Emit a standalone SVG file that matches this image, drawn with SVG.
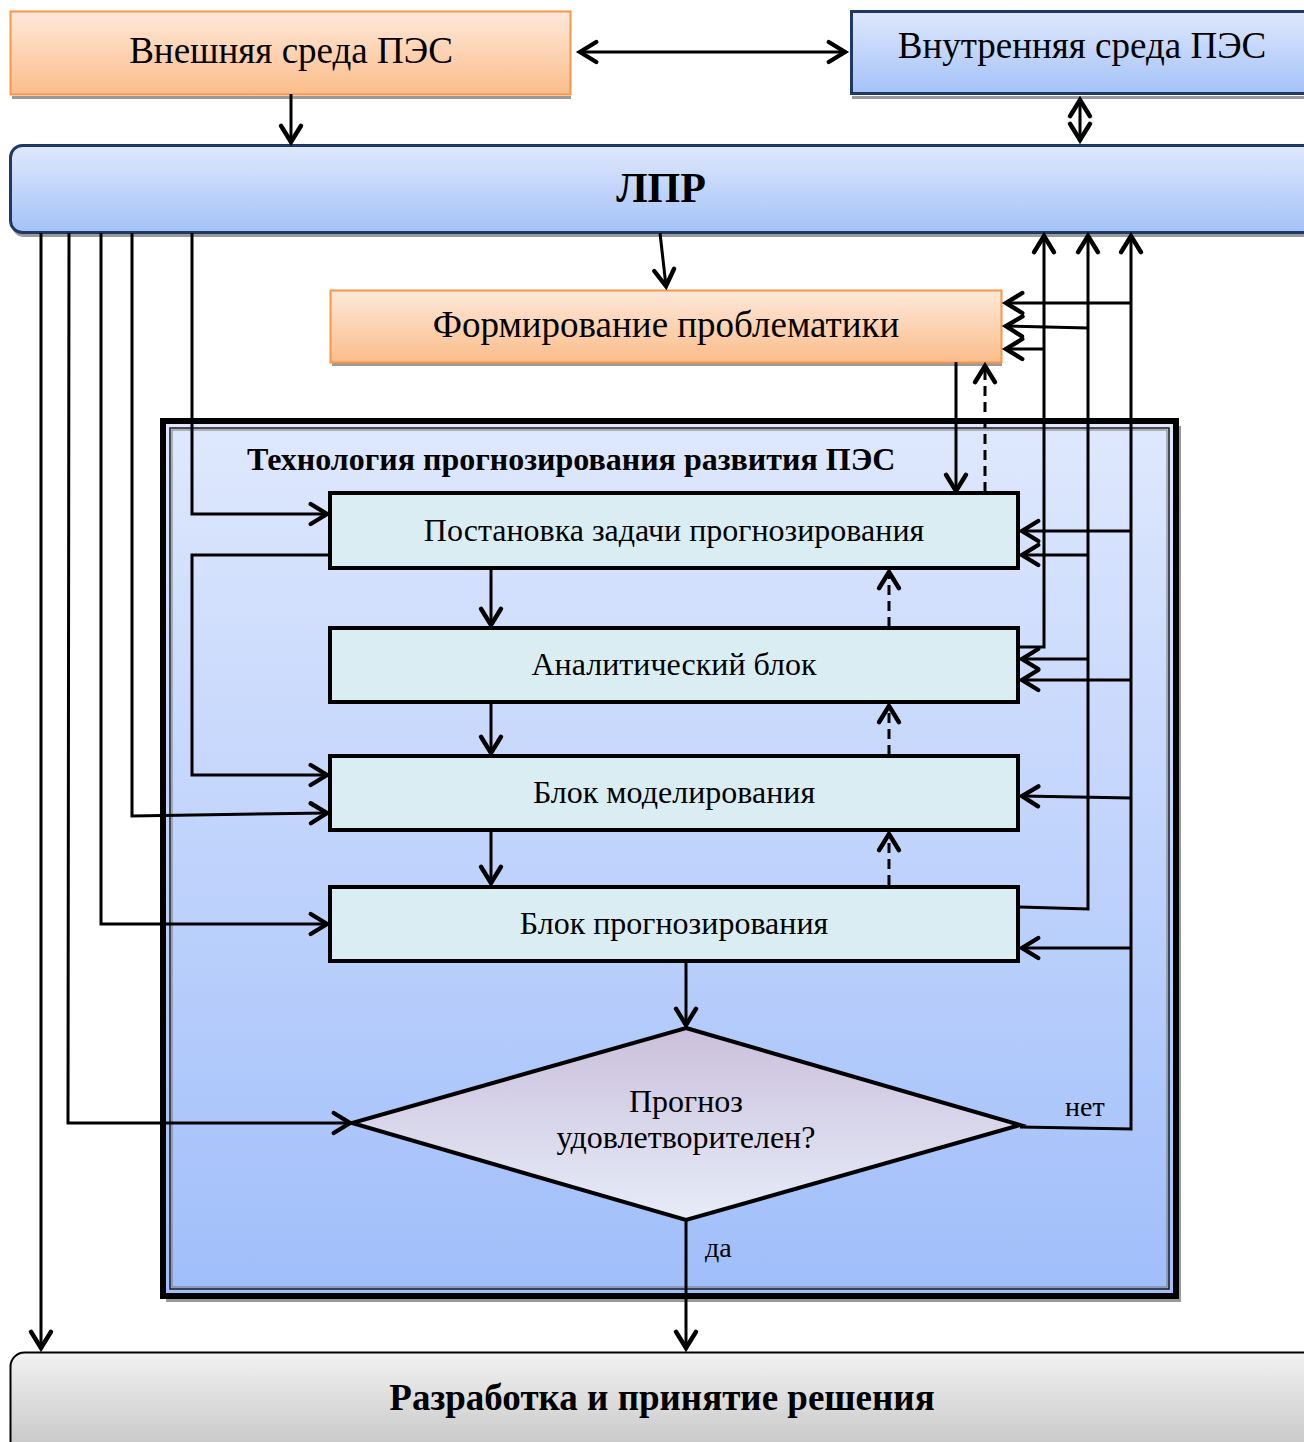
<svg xmlns="http://www.w3.org/2000/svg" width="1304" height="1442" viewBox="0 0 1304 1442">
<style>
.t{font-family:"Liberation Serif","Times New Roman",serif;fill:#000}
.b{font-weight:bold}
.c{stroke:#000;stroke-width:3;fill:none;marker-end:url(#ah)}
.l{stroke:#000;stroke-width:3;fill:none}
.d{stroke:#000;stroke-width:3;fill:none;stroke-dasharray:10 6;marker-end:url(#ah)}
.box{fill:#daedf3;stroke:#000;stroke-width:4}
.sh{fill:#9a9a9a}
</style>
<defs>
<marker id="ah" markerUnits="userSpaceOnUse" markerWidth="30" markerHeight="30" refX="0" refY="0" viewBox="-16 -12 20 24" orient="auto-start-reverse" overflow="visible">
<path d="M-13,-8 L0,0 L-13,8" fill="none" stroke="#000" stroke-width="3.5" stroke-linecap="round" stroke-linejoin="miter"/>
</marker>
<linearGradient id="gO" x1="0" y1="0" x2="0" y2="1"><stop offset="0" stop-color="#fee8da"/><stop offset="1" stop-color="#fbbd8a"/></linearGradient>
<linearGradient id="gB" x1="0" y1="0" x2="0" y2="1"><stop offset="0" stop-color="#dfe8fc"/><stop offset="1" stop-color="#a4c2f8"/></linearGradient>
<linearGradient id="gF" x1="0" y1="0" x2="0" y2="1"><stop offset="0" stop-color="#dfe8fd"/><stop offset="1" stop-color="#a0befa"/></linearGradient>
<linearGradient id="gD" x1="0" y1="0" x2="0" y2="1"><stop offset="0" stop-color="#cbc0dc"/><stop offset="1" stop-color="#e6ecf8"/></linearGradient>
<linearGradient id="gG" x1="0" y1="0" x2="0" y2="1"><stop offset="0" stop-color="#f2f2f2"/><stop offset="1" stop-color="#bdbdbd"/></linearGradient>
</defs>

<g id="frame">
<rect x="166" y="426" width="1015" height="876" class="sh"/>
<rect x="163" y="421" width="1013" height="875" fill="url(#gF)" stroke="#000" stroke-width="6"/>
<rect x="170" y="428" width="999" height="861" fill="none" stroke="#1a1a1a" stroke-width="1.5"/>
<rect x="172" y="430" width="995" height="857" fill="none" stroke="#777" stroke-width="1"/>
<text class="t b" x="247" y="470" font-size="32">Технология прогнозирования развития ПЭС</text>
</g>

<g id="vneshnyaya">
<rect x="12" y="96" width="559" height="3" class="sh"/>
<rect x="10.5" y="11.5" width="560" height="83" fill="url(#gO)" stroke="#f79646" stroke-width="2"/>
<text class="t" x="291" y="63" font-size="37" text-anchor="middle">Внешняя среда ПЭС</text>
</g>

<g id="vnutrennyaya">
<rect x="852" y="96" width="452" height="3" class="sh"/>
<rect x="851.5" y="11.5" width="460" height="82" fill="url(#gB)" stroke="#1f3864" stroke-width="3"/>
<text class="t" x="1082" y="58" font-size="37" text-anchor="middle">Внутренняя среда ПЭС</text>
</g>

<g id="lpr">
<rect x="12" y="147" width="1310" height="90" rx="12" class="sh"/>
<rect x="10.5" y="145.5" width="1310" height="87" rx="12" fill="url(#gB)" stroke="#1f3864" stroke-width="3"/>
<text class="t b" x="661" y="202" font-size="42" text-anchor="middle">ЛПР</text>
</g>

<g id="formirovanie">
<rect x="332" y="363" width="670" height="3" class="sh"/>
<rect x="330.5" y="290.5" width="671" height="72" fill="url(#gO)" stroke="#f79646" stroke-width="2"/>
<text class="t" x="666" y="337" font-size="37" text-anchor="middle">Формирование проблематики</text>
</g>

<g id="postanovka">
<rect x="330" y="493" width="688" height="75" class="box"/>
<text class="t" x="674" y="541" font-size="32" text-anchor="middle">Постановка задачи прогнозирования</text>
</g>

<g id="analit">
<rect x="330" y="628" width="688" height="74" class="box"/>
<text class="t" x="674" y="675" font-size="32" text-anchor="middle">Аналитический блок</text>
</g>

<g id="model">
<rect x="330" y="756" width="688" height="74" class="box"/>
<text class="t" x="674" y="803" font-size="32" text-anchor="middle">Блок моделирования</text>
</g>

<g id="prognoz">
<rect x="330" y="887" width="688" height="74" class="box"/>
<text class="t" x="674" y="934" font-size="32" text-anchor="middle">Блок прогнозирования</text>
</g>

<g id="decision">
<polygon points="686,1028 1020,1125 686,1220 352,1123" fill="url(#gD)" stroke="#000" stroke-width="4" stroke-linejoin="miter"/>
<text class="t" x="686" y="1112" font-size="32" text-anchor="middle">Прогноз</text>
<text class="t" x="686" y="1148" font-size="32" text-anchor="middle">удовлетворителен?</text>
</g>

<g id="razrabotka">
<rect x="10.5" y="1352.5" width="1320" height="120" rx="14" fill="url(#gG)" stroke="#000" stroke-width="2"/>
<text class="t b" x="662" y="1410" font-size="37" text-anchor="middle">Разработка и принятие решения</text>
</g>

<g id="connectors">
<path class="c" d="M580,52 H845" marker-start="url(#ah)"/>
<path class="c" d="M1080,100 V140" marker-start="url(#ah)"/>
<path class="c" d="M291,94 V142"/>
<path class="c" d="M660,233 L666,286"/>

<path class="c" d="M956,362 V491"/>
<path class="d" d="M985,492 V366"/>

<path class="c" d="M41,233 V1348"/>
<path class="c" d="M69,233 L68,1123 H350"/>
<path class="c" d="M101,233 V924 H327"/>
<path class="c" d="M132,233 V816 L327,813"/>
<path class="c" d="M192,233 V514 H327"/>
<path class="c" d="M330,555 H192 V775 H327"/>

<path class="c" d="M491,570 V625"/>
<path class="c" d="M491,704 V753"/>
<path class="c" d="M491,832 V883"/>
<path class="d" d="M889,627 V572"/>
<path class="d" d="M889,755 V706"/>
<path class="d" d="M889,885 V834"/>

<path class="c" d="M686,963 V1025"/>
<path class="c" d="M686,1220 V1348"/>

<path class="c" d="M1020,647 H1044 V236"/>
<path class="c" d="M1020,907 L1088,909 V236"/>
<path class="c" d="M1020,1127 L1131,1129 V236"/>

<path class="c" d="M1131,303 H1006"/>
<path class="c" d="M1088,328 L1006,326"/>
<path class="c" d="M1044,349 H1006"/>
<path class="c" d="M1131,531 H1022"/>
<path class="c" d="M1088,555 H1022"/>
<path class="c" d="M1088,659 H1022"/>
<path class="c" d="M1131,680 H1022"/>
<path class="c" d="M1131,798 L1022,796"/>
<path class="c" d="M1131,948 H1022"/>

<text class="t" x="1065" y="1116" font-size="28">нет</text>
<text class="t" x="705" y="1257" font-size="28">да</text>
</g>
</svg>
